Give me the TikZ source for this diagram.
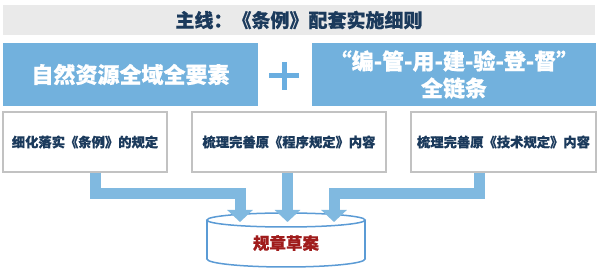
\documentclass[tikz,border=0pt]{standalone}
\usepackage{fontspec}
\setmainfont{Noto Sans CJK SC}[BoldFeatures={FakeBold=0.6}]
\usetikzlibrary{arrows.meta,positioning}
\definecolor{navy}{HTML}{1B3A5C}
\definecolor{boxblue}{HTML}{72B1DD}
\definecolor{connblue}{HTML}{80B9E0}
\definecolor{plusblue}{HTML}{6AAEE0}
\definecolor{cylline}{HTML}{5B9BD5}
\definecolor{darkred}{HTML}{A01C1C}
\definecolor{bannergray}{HTML}{EAEAEA}
\definecolor{boxgray}{HTML}{C2C2C2}
\tikzset{
  banner/.style={fill=bannergray, draw=none, minimum width=592pt, minimum height=30pt, inner sep=0pt, text=navy, font=\bfseries\fontsize{19}{21}\selectfont},
  bluebox/.style={fill=boxblue, draw=none, inner sep=0pt, minimum height=63pt, text=white, align=center, font=\bfseries\fontsize{22}{28}\selectfont},
  whitebox/.style={fill=white, draw=boxgray, line width=1.5pt, inner sep=0pt, minimum height=60pt, text=navy, font=\bfseries\fontsize{13.3}{16}\selectfont},
  conn/.style={draw=connblue, line width=11pt, -{Triangle[width=25pt,length=12pt]}},
  cyl/.style={draw=cylline, line width=1.5pt, fill=white},
  pluslabel/.style={draw=plusblue, line width=5pt}
}
\begin{document}
\begin{tikzpicture}[x=1pt,y=-1pt]
\useasboundingbox (0,0) rectangle (600,272);
% banner
\node[banner] (title) at (299,20) {主线：《条例》配套实施细则};
% blue boxes
\node[bluebox, minimum width=255pt] (left) at (130.5,74.5) {自然资源全域全要素};
\node[bluebox, minimum width=284pt] (right) at (454,74.5) {“编-管-用-建-验-登-督”\\[-1pt]全链条};
% plus
\coordinate (pc) at (284,76);
\draw[pluslabel] ([xshift=-15pt]pc) -- ([xshift=15pt]pc);
\draw[pluslabel] ([yshift=14pt]pc) -- ([yshift=-14pt]pc);
% white boxes
\node[whitebox, minimum width=164pt] (b1) at (85,142) {细化落实《条例》的规定};
\node[whitebox, minimum width=194pt] (b2) at (289,142) {梳理完善原《程序规定》内容};
\node[whitebox, minimum width=185pt] (b3) at (503.5,142) {梳理完善原《技术规定》内容};
% cylinder
\filldraw[cyl] (286,259) ellipse [x radius=79pt, y radius=8pt];
\fill[white] (207,220) rectangle (365,259);
\draw[cyl] (207,220) -- (207,259);
\draw[cyl] (365,220) -- (365,259);
\filldraw[cyl] (286,220) ellipse [x radius=79pt, y radius=7pt];
\node[text=darkred, font=\bfseries\fontsize{16.5}{18}\selectfont] (draft) at (286,243) {规章草案};
% arrow tips
\coordinate (t1) at (240,222);
\coordinate (t2) at (287.5,222);
\coordinate (t3) at (334,222);
% connectors
\draw[conn] ([xshift=10pt]b1.south) |- ([yshift=28pt]t1) -- (t1);
\draw[conn] (b2.south -| t2) -- (t2);
\draw[conn] ([xshift=-24.5pt]b3.south) |- ([yshift=28pt]t3) -- (t3);
\end{tikzpicture}
\end{document}
